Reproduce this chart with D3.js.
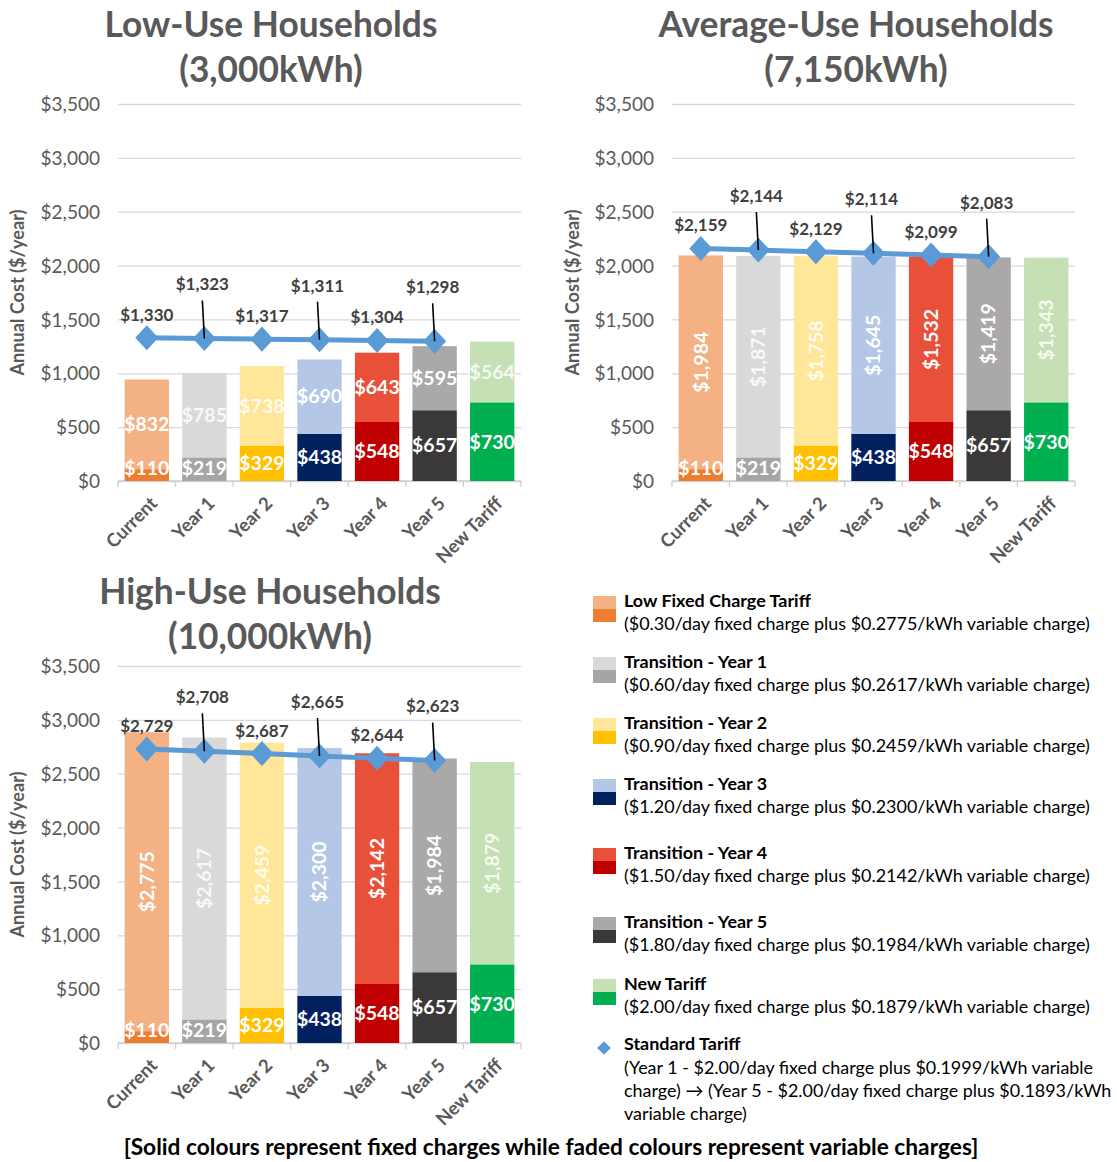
<!DOCTYPE html>
<html>
<head>
<meta charset="utf-8">
<script src="https://cdn.jsdelivr.net/npm/d3@7"></script>
<style>
  html, body { margin: 0; padding: 0; background: #ffffff; }
  svg { display: block; font-family: Lato, "Open Sans", sans-serif; }
</style>
</head>
<body>
<svg id="chart" width="1117" height="1162"></svg>
<script>
// ---------------- DATA ----------------
const categories = ["Current", "Year 1", "Year 2", "Year 3", "Year 4", "Year 5", "New Tariff"];
const fixedCharges = [110, 219, 329, 438, 548, 657, 730];
const lowVariable = [832, 785, 738, 690, 643, 595, 564];
const avgVariable = [1984, 1871, 1758, 1645, 1532, 1419, 1343];
const highVariable = [2775, 2617, 2459, 2300, 2142, 1984, 1879];
const standardCategories = ["Current", "Year 1", "Year 2", "Year 3", "Year 4", "Year 5"];
const lowStandard = [1330, 1323, 1317, 1311, 1304, 1298];
const avgStandard = [2159, 2144, 2129, 2114, 2099, 2083];
const highStandard = [2729, 2708, 2687, 2665, 2644, 2623];
const yTickValues = [0, 500, 1000, 1500, 2000, 2500, 3000, 3500];
const panelTitles = [["Low-Use Households", "(3,000kWh)"], ["Average-Use Households", "(7,150kWh)"], ["High-Use Households", "(10,000kWh)"]];
const yAxisTitle = "Annual Cost ($/year)";
const variableColors = ["#F4B183", "#D9D9D9", "#FFE699", "#B4C7E7", "#E8503A", "#AAA8A8", "#C5E0B4"];
const fixedColors = ["#ED7D31", "#A5A5A5", "#FFC000", "#002060", "#C00000", "#3A3838", "#00B050"];
const legendTitles = ["Low Fixed Charge Tariff", "Transition - Year 1", "Transition - Year 2", "Transition - Year 3", "Transition - Year 4", "Transition - Year 5", "New Tariff"];
const legendDescriptions = [
  "($0.30/day fixed charge plus $0.2775/kWh variable charge)",
  "($0.60/day fixed charge plus $0.2617/kWh variable charge)",
  "($0.90/day fixed charge plus $0.2459/kWh variable charge)",
  "($1.20/day fixed charge plus $0.2300/kWh variable charge)",
  "($1.50/day fixed charge plus $0.2142/kWh variable charge)",
  "($1.80/day fixed charge plus $0.1984/kWh variable charge)",
  "($2.00/day fixed charge plus $0.1879/kWh variable charge)"
];
const standardTitle = "Standard Tariff";
const standardDescription = [
  "(Year 1 - $2.00/day fixed charge plus $0.1999/kWh variable",
  "charge) \u2192 (Year 5 - $2.00/day fixed charge plus $0.1893/kWh",
  "variable charge)"
];
const footerText = "[Solid colours represent fixed charges while faded colours represent variable charges]";

// ---------------- LAYOUT ----------------
const svg = d3.select("#chart");
const textDark = "#595959";
const fmt = d3.format(",");
const money = v => "$" + fmt(v);

function fitWidth(sel, target) {
  const w = sel.node().getComputedTextLength();
  const fs = parseFloat(sel.attr("font-size"));
  const nfs = fs * target / w;
  sel.attr("font-size", nfs);
  return nfs;
}

const panels = [
  { variable: lowVariable, standard: lowStandard, title: panelTitles[0], x0: 118, x1: 521, yTop: 104, yBot: 481, titleCx: 271, titleY: 25, yTitleX: 18, rotate: false },
  { variable: avgVariable, standard: avgStandard, title: panelTitles[1], x0: 672, x1: 1075, yTop: 104, yBot: 481, titleCx: 856, titleY: 25, yTitleX: 573, rotate: true },
  { variable: highVariable, standard: highStandard, title: panelTitles[2], x0: 118, x1: 521, yTop: 666, yBot: 1043, titleCx: 270, titleY: 592, yTitleX: 18, rotate: true }
];

let titleFont = null;

panels.forEach((p, pi) => {
  const g = svg.append("g");
  const x = d3.scaleBand().domain(categories).range([p.x0, p.x1]).paddingInner(0.23).paddingOuter(0.115);
  const xb = d3.scaleBand().domain(categories).range([p.x0, p.x1]);
  const y = d3.scaleLinear().domain([0, 3500]).range([p.yBot, p.yTop]);

  // gridlines + tick labels via axis
  const yAxis = d3.axisLeft(y).tickValues(yTickValues).tickFormat(money).tickSize(-(p.x1 - p.x0)).tickPadding(18);
  const ya = g.append("g").attr("transform", `translate(${p.x0},0)`).call(yAxis);
  ya.select(".domain").remove();
  ya.selectAll(".tick line").attr("stroke", "#D9D9D9").attr("stroke-width", 1.3);
  ya.selectAll(".tick text").attr("fill", textDark).attr("font-size", 19).attr("font-family", "Lato").attr("dy", "0.35em");

  // x axis baseline with ticks at band edges
  const base = g.append("g");
  base.append("line").attr("x1", p.x0).attr("x2", p.x1).attr("y1", p.yBot).attr("y2", p.yBot).attr("stroke", "#D0D0D0").attr("stroke-width", 1.3);
  const edges = categories.map(c => xb(c)).concat([p.x1]);
  base.selectAll("line.edge").data(edges).join("line").attr("class", "edge")
    .attr("x1", d => d).attr("x2", d => d).attr("y1", p.yBot).attr("y2", p.yBot + 6)
    .attr("stroke", "#D0D0D0").attr("stroke-width", 1.3);

  // category labels
  g.selectAll("text.cat").data(categories).join("text").attr("class", "cat")
    .attr("transform", d => `translate(${xb(d) + xb.bandwidth() / 2 + 7},${p.yBot + 19}) rotate(-45)`)
    .attr("text-anchor", "end").attr("dy", "0.35em")
    .attr("font-size", 18.5).attr("font-weight", 700).attr("fill", textDark)
    .text(d => d);

  // bars
  const rows = categories.map((c, i) => ({ c, i, fixed: fixedCharges[i], variable: p.variable[i] }));
  g.selectAll("rect.fixed").data(rows).join("rect").attr("class", "fixed")
    .attr("x", d => x(d.c)).attr("width", x.bandwidth())
    .attr("y", d => y(d.fixed)).attr("height", d => y(0) - y(d.fixed))
    .attr("fill", d => fixedColors[d.i]);
  g.selectAll("rect.var").data(rows).join("rect").attr("class", "var")
    .attr("x", d => x(d.c)).attr("width", x.bandwidth())
    .attr("y", d => y(d.fixed + d.variable)).attr("height", d => y(d.fixed) - y(d.fixed + d.variable))
    .attr("fill", d => variableColors[d.i]);

  // fixed labels
  g.selectAll("text.flab").data(rows).join("text").attr("class", "flab")
    .attr("x", d => x(d.c) + x.bandwidth() / 2)
    .attr("y", d => Math.min(y(d.fixed / 2), p.yBot - 13))
    .attr("dy", "0.35em").attr("text-anchor", "middle")
    .attr("font-size", 19.5).attr("font-weight", 700).attr("fill", "#ffffff")
    .text(d => money(d.fixed));

  // variable labels
  g.selectAll("text.vlab").data(rows).join("text").attr("class", "vlab")
    .attr("transform", d => {
      const cx = x(d.c) + x.bandwidth() / 2;
      const cy = y(d.fixed + d.variable / 2);
      return p.rotate ? `translate(${cx},${cy}) rotate(-90)` : `translate(${cx},${cy})`;
    })
    .attr("dy", "0.35em").attr("text-anchor", "middle")
    .attr("font-size", 19.5).attr("font-weight", 700).attr("fill", "#ffffff")
    .attr("fill-opacity", d => (d.i === 1 || d.i === 2 || d.i === 6) ? 0.85 : 1)
    .text(d => money(d.variable));

  // standard tariff line
  const pts = standardCategories.map((c, i) => ({ c, i, v: p.standard[i], px: xb(c) + xb.bandwidth() / 2, py: y(p.standard[i]) }));
  g.append("path").datum(pts)
    .attr("d", d3.line().x(d => d.px).y(d => d.py))
    .attr("fill", "none").attr("stroke", "#5B9BD5").attr("stroke-width", 5);
  g.selectAll("path.dia").data(pts).join("path").attr("class", "dia")
    .attr("transform", d => `translate(${d.px},${d.py}) scale(0.92,1)`)
    .attr("d", d3.symbol(d3.symbolDiamond2, 400))
    .attr("fill", "#5B9BD5");

  // leader lines for odd labels
  g.selectAll("line.leader").data(pts.filter(d => d.i % 2 === 1)).join("line").attr("class", "leader")
    .attr("x1", d => d.px - 2).attr("y1", d => d.py - 38)
    .attr("x2", d => d.px).attr("y2", d => d.py)
    .attr("stroke", "#000000").attr("stroke-width", 1.6);

  g.selectAll("text.slab").data(pts).join("text").attr("class", "slab")
    .attr("x", d => d.px + (d.i % 2 === 1 ? -2 : 0))
    .attr("y", d => d.py + (d.i % 2 === 1 ? -54 : -23))
    .attr("dy", "0.35em").attr("text-anchor", "middle")
    .attr("font-size", 17).attr("font-weight", 700).attr("fill", "#404040")
    .text(d => money(d.v));

  // y axis title
  const yt = g.append("text")
    .attr("transform", `translate(${p.yTitleX},${(p.yTop + p.yBot) / 2 + 0}) rotate(-90)`)
    .attr("text-anchor", "middle").attr("dy", "0.35em")
    .attr("font-size", 15).attr("font-weight", 700).attr("fill", textDark)
    .text(yAxisTitle);
  fitWidth(yt, 166);

  // titles
  const t1 = g.append("text").attr("x", p.titleCx).attr("y", p.titleY).attr("dy", "0.35em")
    .attr("text-anchor", "middle").attr("font-size", 32).attr("font-weight", 700).attr("fill", textDark)
    .text(p.title[0]);
  if (pi === 0) titleFont = fitWidth(t1, 333); else t1.attr("font-size", titleFont);
  g.append("text").attr("x", p.titleCx).attr("y", p.titleY + 45).attr("dy", "0.35em")
    .attr("text-anchor", "middle").attr("font-size", titleFont).attr("font-weight", 700).attr("fill", textDark)
    .text(p.title[1]);
});

// ---------------- LEGEND ----------------
const leg = svg.append("g");
const legendTitleY = [601, 662, 723, 784, 853, 922, 984];
let descFont = null, legTitleFont = null;
legendTitles.forEach((t, i) => {
  const ty = legendTitleY[i];
  leg.append("rect").attr("x", 593).attr("y", ty - 5).attr("width", 23).attr("height", 13).attr("fill", variableColors[i]);
  leg.append("rect").attr("x", 593).attr("y", ty + 8).attr("width", 23).attr("height", 13).attr("fill", fixedColors[i]);
  const tt = leg.append("text").attr("x", 624).attr("y", ty).attr("dy", "0.35em")
    .attr("font-size", 17).attr("font-weight", 700).attr("fill", "#000000").text(t);
  if (i === 0) legTitleFont = fitWidth(tt, 187); else tt.attr("font-size", legTitleFont);
  const dt = leg.append("text").attr("x", 624).attr("y", ty + 23).attr("dy", "0.35em")
    .attr("font-size", 17).attr("fill", "#000000").text(legendDescriptions[i]);
  if (i === 0) descFont = fitWidth(dt, 466); else dt.attr("font-size", descFont);
});
// standard tariff legend
leg.append("path").attr("transform", "translate(604,1048)").attr("d", d3.symbol(d3.symbolDiamond2, 120)).attr("fill", "#5B9BD5");
leg.append("text").attr("x", 624).attr("y", 1044).attr("dy", "0.35em")
  .attr("font-size", legTitleFont).attr("font-weight", 700).attr("fill", "#000000").text(standardTitle);
standardDescription.forEach((line, i) => {
  leg.append("text").attr("x", 624).attr("y", 1068 + i * 23).attr("dy", "0.35em")
    .attr("font-size", descFont).attr("fill", "#000000").text(line);
});

// ---------------- FOOTER ----------------
const ft = svg.append("text").attr("x", 551).attr("y", 1147).attr("dy", "0.35em")
  .attr("text-anchor", "middle").attr("font-size", 20).attr("font-weight", 700).attr("fill", "#000000")
  .text(footerText);
fitWidth(ft, 855);
</script>
</body>
</html>
